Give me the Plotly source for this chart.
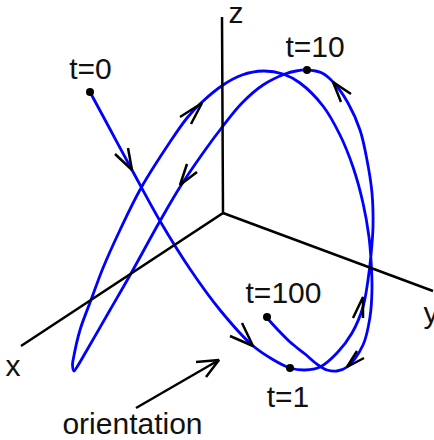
import plotly.graph_objects as go

# coordinates (pixels, y pointing down)
curve_x = [90, 111, 132, 160, 190, 220, 252, 272, 290, 305, 320, 337, 352, 363, 368, 371, 373, 372, 367, 360, 348, 334,
           322, 307, 296, 285, 263, 242, 223, 203, 180, 160, 129, 110, 87, 77, 74, 72.5, 73.5, 80, 91, 103, 120, 141, 170, 187, 201,
           223, 242, 263, 283, 300, 323, 340, 353, 363, 369, 371, 372, 370, 363, 347, 337, 327, 318, 305, 290, 278, 268]
curve_y = [92, 131, 170, 221, 269, 310, 345, 359, 368, 370, 367, 353, 333, 307, 280, 255, 227, 193, 160, 130, 103, 83,
           73, 70, 71, 74, 85, 103, 126, 153, 187, 221, 277, 310, 350, 367, 371, 365, 358, 330, 300, 268, 230, 188, 142, 118, 103,
           85, 75, 71, 74, 83, 106, 135, 167, 203, 237, 260, 288, 317, 345, 367, 371, 370, 365, 354, 342, 330, 319]

axis_x = [222, 223, 21, None, 223, 433]
axis_y = [17, 213, 346, None, 213, 291]

arrow_x = [115, 132, 128, None, 180, 202, 191, None, 197, 180, 187, None, 351, 333, 341, None,
           230, 253, 242, None, 353, 363, 363, None, 364, 347, 357, None, 136, 219, None, 196, 219, 206]
arrow_y = [154, 170, 148, None, 117, 103, 124, None, 172, 185, 164, None, 94, 82, 102, None,
           336, 346, 323, None, 318, 297, 318, None, 358, 367, 351, None, 408, 360, None, 362, 360, 377]

point_x = [90, 290, 307, 267]
point_y = [92, 368, 70, 317]

labels = ["t=0", "t=10", "t=1", "t=100", "x", "y", "z", "orientation"]
label_x = [90.5, 315, 288, 283.5, 13, 431, 236, 132.5]
label_y = [71, 49, 399, 295, 368, 315, 15, 426]

fig = go.Figure()

fig.add_trace(go.Scatter(
    x=curve_x, y=curve_y, mode="lines",
    line=dict(color="#0000ff", width=2.8, shape="spline", smoothing=1),
))

fig.add_trace(go.Scatter(
    x=axis_x, y=axis_y, mode="lines",
    line=dict(color="black", width=2.5),
))

fig.add_trace(go.Scatter(
    x=arrow_x, y=arrow_y, mode="lines",
    line=dict(color="black", width=2.5),
))

fig.add_trace(go.Scatter(
    x=point_x, y=point_y, mode="markers",
    marker=dict(color="black", size=8),
))

fig.add_trace(go.Scatter(
    x=label_x, y=label_y, mode="text", text=labels, textposition="middle center",
    cliponaxis=False,
    textfont=dict(family="Liberation Sans", size=30, color="#111111"),
))

fig.update_layout(
    width=434, height=440,
    margin=dict(l=0, r=0, t=0, b=0),
    showlegend=False,
    paper_bgcolor="white",
    plot_bgcolor="white",
)
fig.update_xaxes(range=[0, 434], visible=False)
fig.update_yaxes(range=[440, 0], visible=False)

# the page's default body margin would push the chart 8px off
fig.write_html("out.html", config={"displayModeBar": False},
               post_script="document.body.style.margin = '0';")
